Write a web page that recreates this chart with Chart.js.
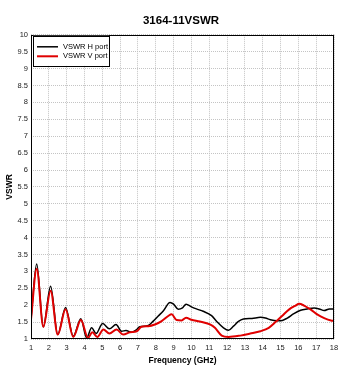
<!DOCTYPE html>
<html>
<head>
<meta charset="utf-8">
<script src="https://cdn.jsdelivr.net/npm/chart.js@4/dist/chart.umd.min.js"></script>
<style>
html,body{margin:0;padding:0;background:#fff;}
#wrap{width:362px;height:376px;position:relative;}
</style>
</head>
<body>
<div id="wrap"><canvas id="c" width="362" height="376"></canvas></div>
<script>
const chartTitle = "3164-11VSWR";
const xTitle = "Frequency (GHz)";
const yTitle = "VSWR";
const seriesNames = ["VSWR H port", "VSWR V port"];
const seriesColors = ["#000000", "#e00000"];

const xTicks = [1,2,3,4,5,6,7,8,9,10,11,12,13,14,15,16,17,18];
const yTicks = [1,1.5,2,2.5,3,3.5,4,4.5,5,5.5,6,6.5,7,7.5,8,8.5,9,9.5,10];
const yTickLabels = ["1","1.5","2","2.5","3","3.5","4","4.5","5","5.5","6","6.5","7","7.5","8","8.5","9","9.5","10"];

const freqH = [1.0,1.32,1.69,2.1,2.5,2.94,3.37,3.8,4.12,4.4,4.65,5.02,5.4,5.77,6.08,6.33,6.64,6.93,7.1,7.58,7.86,8.14,8.42,8.8,9.0,9.26,9.5,9.7,10.0,10.28,10.66,11.13,11.42,11.8,12.08,12.36,12.64,12.92,13.4,13.87,14.15,14.43,14.81,15.1,15.38,15.75,16.13,16.5,16.89,17.17,17.45,17.74,18.0];
const vswrH = [1.6,3.22,1.36,2.56,1.13,1.93,1.08,1.6,1.03,1.33,1.16,1.46,1.3,1.43,1.23,1.25,1.2,1.28,1.36,1.4,1.53,1.68,1.83,2.08,2.03,1.88,1.92,2.03,1.95,1.89,1.82,1.69,1.52,1.33,1.26,1.38,1.52,1.59,1.61,1.64,1.62,1.57,1.54,1.55,1.62,1.75,1.85,1.89,1.92,1.89,1.84,1.89,1.89];

const freqV = [1.0,1.32,1.69,2.1,2.5,2.94,3.37,3.8,4.2,4.44,4.72,5.06,5.4,5.8,6.18,6.55,6.93,7.2,7.58,7.95,8.33,8.7,8.89,9.17,9.45,9.7,10.0,10.47,11.04,11.32,11.7,12.08,12.74,13.3,13.87,14.34,14.72,15.1,15.47,15.85,16.04,16.32,16.7,17.08,17.45,17.83,18.0];
const vswrV = [1.58,3.08,1.36,2.43,1.13,1.88,1.06,1.56,1.03,1.2,1.06,1.28,1.16,1.28,1.13,1.2,1.23,1.36,1.38,1.43,1.53,1.68,1.73,1.56,1.55,1.63,1.57,1.52,1.43,1.33,1.1,1.06,1.1,1.16,1.23,1.33,1.5,1.69,1.87,1.99,2.04,1.99,1.87,1.72,1.62,1.55,1.54];

const FONT = "'Liberation Sans', Arial, sans-serif";

const toPts = (xs, ys) => xs.map((x, i) => ({x: x, y: ys[i]}));

const framePlugin = {
  id: 'frame',
  afterDatasetsDraw(chart) {
    const a = chart.chartArea, ctx = chart.ctx;
    ctx.save();
    ctx.strokeStyle = '#000';
    ctx.lineWidth = 1;
    ctx.strokeRect(Math.round(a.left) + 0.5, Math.round(a.top) + 0.5, Math.round(a.right - a.left) - 1, Math.round(a.bottom - a.top) - 1);
    // legend box
    const bx = a.left + 2, by = a.top + 1, bw = 76, bh = 30;
    ctx.fillStyle = '#fff';
    ctx.fillRect(bx, by, bw, bh);
    ctx.strokeRect(Math.round(bx) + 0.5, Math.round(by) + 0.5, bw, bh);
    ctx.font = "7.5px " + FONT;
    ctx.textBaseline = 'middle';
    ctx.textAlign = 'left';
    seriesNames.forEach((name, i) => {
      const ly = by + 11 + i * 9.5;
      ctx.strokeStyle = seriesColors[i];
      ctx.lineWidth = i === 0 ? 1.5 : 2;
      ctx.beginPath();
      ctx.moveTo(bx + 4, ly);
      ctx.lineTo(bx + 25, ly);
      ctx.stroke();
      ctx.fillStyle = '#000';
      ctx.fillText(name, bx + 30, ly);
    });
    ctx.restore();
  }
};

new Chart(document.getElementById('c'), {
  type: 'line',
  data: {
    datasets: [
      {label: seriesNames[0], data: toPts(freqH, vswrH), borderColor: seriesColors[0], borderWidth: 1.5, pointRadius: 0, cubicInterpolationMode: 'monotone', fill: false, order: 1},
      {label: seriesNames[1], data: toPts(freqV, vswrV), borderColor: seriesColors[1], borderWidth: 2, pointRadius: 0, cubicInterpolationMode: 'monotone', fill: false, order: 0}
    ]
  },
  options: {
    responsive: false,
    animation: false,
    devicePixelRatio: 1,
    layout: {padding: {left: 0, right: 0, top: 0, bottom: 0}},
    plugins: {
      legend: {display: false},
      tooltip: {enabled: false},
      title: {
        display: true,
        text: chartTitle,
        color: '#000',
        font: {family: FONT, size: 11.5, weight: 'bold'},
        padding: {top: 14, bottom: 7}
      }
    },
    scales: {
      x: {
        type: 'linear',
        min: 1, max: 18,
        afterFit(s) { s.height = 37; },
        afterBuildTicks(s) { s.ticks = xTicks.map(v => ({value: v})); },
        grid: {color: '#c4c4c4', lineWidth: 1, drawTicks: false, borderDash: [1, 1]},
        border: {display: false, dash: [1, 1]},
        ticks: {color: '#222', padding: 4, maxRotation: 0, autoSkip: false, font: {family: FONT, size: 7.5}},
        title: {display: true, text: xTitle, color: '#000', font: {family: FONT, size: 8.5, weight: 'bold'}, padding: {top: 2, bottom: 10}}
      },
      y: {
        type: 'linear',
        min: 1, max: 10,
        afterFit(s) { s.width = 31; },
        afterBuildTicks(s) { s.ticks = yTicks.map(v => ({value: v})); },
        grid: {color: '#c4c4c4', lineWidth: 1, drawTicks: false, borderDash: [1, 1]},
        border: {display: false, dash: [1, 1]},
        ticks: {color: '#222', padding: 3, autoSkip: false, font: {family: FONT, size: 7.5},
          callback: (v) => { const i = yTicks.indexOf(v); return i >= 0 ? yTickLabels[i] : ''; }},
        title: {display: true, text: yTitle, color: '#000', font: {family: FONT, size: 8.5, weight: 'bold'}, padding: {top: 5, bottom: 0}}
      },
      yRight: {
        type: 'linear',
        position: 'right',
        min: 1, max: 10,
        afterFit(s) { s.width = 28; },
        grid: {display: false, drawOnChartArea: false, drawTicks: false},
        border: {display: false},
        ticks: {display: false}
      }
    }
  },
  plugins: [framePlugin]
});
</script>
</body>
</html>
